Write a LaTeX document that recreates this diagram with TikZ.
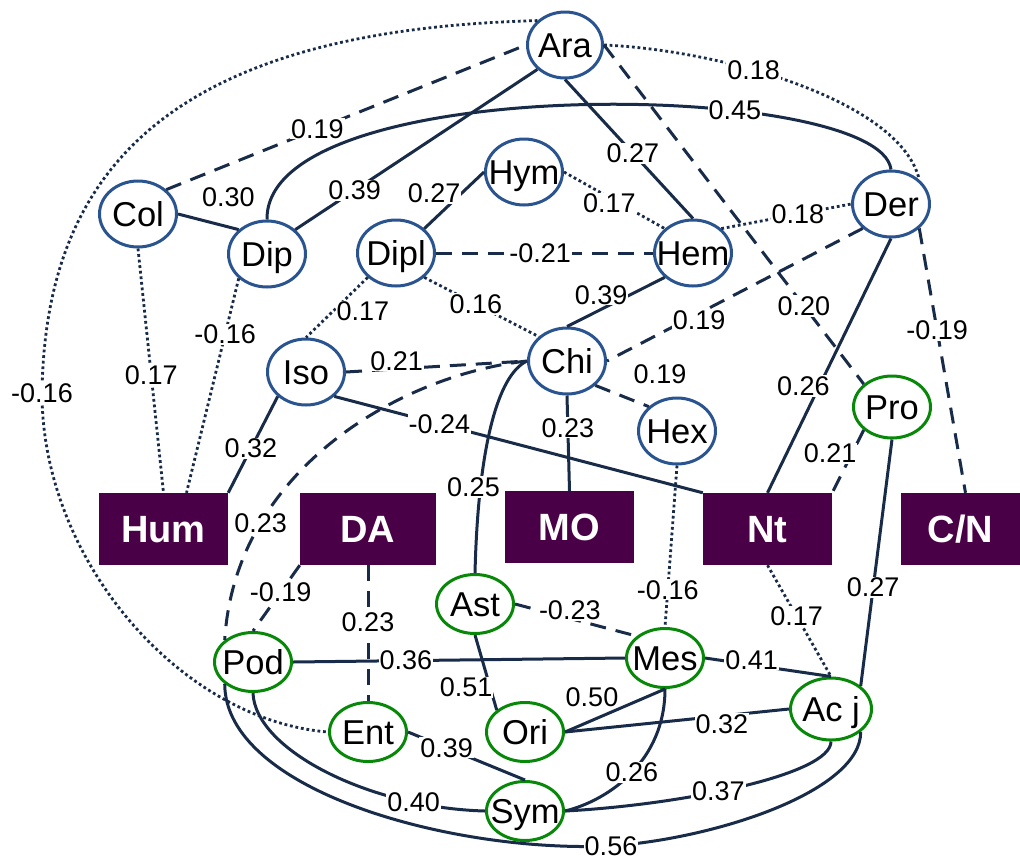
\documentclass[tikz,border=0pt]{standalone}
\usepackage{fontspec}
\setmainfont{Liberation Sans}
\usetikzlibrary{shapes.geometric}
\definecolor{bluec}{RGB}{42,84,144}
\definecolor{greenc}{RGB}{8,136,8}
\definecolor{boxc}{RGB}{74,0,70}
\definecolor{edgec}{RGB}{24,43,72}
\tikzset{
  bnode/.style={ellipse, draw=bluec, line width=3pt, fill=white,
    minimum width=77pt, minimum height=66pt, inner xsep=-40pt, inner ysep=-20pt,
    font=\fontsize{34.5}{34.5}\selectfont, text height=24.7pt, text depth=0pt},
  gnode/.style={bnode, draw=greenc, minimum height=59pt},
  boxS/.style={rectangle, fill=boxc, text=white, inner sep=0pt,
    minimum width=129pt, minimum height=72pt,
    font=\fontsize{38}{38}\selectfont\bfseries, text height=27.2pt, text depth=0pt},
  labS/.style={fill=white, inner sep=1pt, text=black,
    font=\fontsize{27}{27}\selectfont},
  solE/.style={draw=edgec, line width=3pt},
  dashE/.style={draw=edgec, line width=3pt, dash pattern=on 16pt off 10pt},
  dotE/.style={draw=edgec, line width=2.8pt, dash pattern=on 2.8pt off 2.8pt}
}
\begin{document}
\begin{tikzpicture}[x=1pt,y=-1pt]
\useasboundingbox (0,0) rectangle (1020,860);
% nodes
\node[bnode,minimum width=75pt] (Ara) at (565,45) {Ara};
\node[bnode] (Col) at (138,214) {Col};
\node[bnode] (Dip) at (267,254) {Dip};
\node[bnode] (Dipl) at (396,253) {Dipl};
\node[bnode] (Hym) at (524,172) {Hym};
\node[bnode] (Hem) at (693,253) {Hem};
\node[bnode] (Der) at (891,204) {Der};
\node[bnode] (Iso) at (306,372) {Iso};
\node[bnode] (Chi) at (567,361) {Chi};
\node[bnode] (Hex) at (677,431) {Hex};
\node[gnode,minimum height=62pt] (Pro) at (892,407) {Pro};
\node[gnode] (Ast) at (475,604) {Ast};
\node[gnode] (Mes) at (665,658) {Mes};
\node[gnode] (Ori) at (525,732) {Ori};
\node[gnode] (Sym) at (525,811) {Sym};
\node[gnode] (Pod) at (253,662) {Pod};
\node[gnode] (Ent) at (368,732) {Ent};
\node[gnode,minimum width=81pt,minimum height=62pt] (Acj) at (831,709) {Ac j};
\node[boxS] (Hum) at (163.5,529) {Hum};
\node[boxS,minimum width=136pt] (DA) at (368,529) {DA};
\node[boxS] (MO) at (569.5,527) {MO};
\node[boxS] (Nt) at (767.5,529) {Nt};
\node[boxS,minimum width=119pt] (CN) at (960.5,529) {C/N};
\coordinate (w1) at (42,393);
\coordinate (w2) at (611,846);
% edges
\draw[dashE] (Col.north east) -- node[labS,pos=0.42]{0.19} (Ara.west);
\draw[solE] (Dip.north east) -- node[labS,pos=0.245]{0.39} (Ara.south west);
\draw[solE] (Ara.south) -- node[labS,pos=0.53]{0.27} (Hem.north);
\draw[dashE] (Ara.east) -- node[labS,pos=0.77]{0.20} (Pro.north west);
\draw[dotE] (Ara.east) .. controls (720,50) and (900,100) .. node[labS,pos=0.385]{0.18} (Der.north east);
\draw[dotE] (Ara.north west) .. controls (170,30) and (45,170) .. (w1) node[labS]{-0.16} .. controls (42,560) and (180,720) .. (Ent.west);
\draw[solE] (Dip.north) .. controls (265,70) and (880,80) .. node[labS,pos=0.68]{0.45} (Der.north);
\draw[solE] (Col.east) -- node[labS,pos=0.5,xshift=20pt,yshift=25pt]{0.30} (Dip.north west);
\draw[dotE] (Col.south) -- node[labS,pos=0.52]{0.17} (Hum.north);
\draw[dotE] (Dip.south west) -- node[labS,pos=0.26]{-0.16} ([xshift=23pt]Hum.north);
\draw[solE] (Dipl.north east) -- node[labS,pos=0.5,xshift=-20pt,yshift=7pt]{0.27} (Hym.west);
\draw[dotE] (Hym.east) -- node[labS,pos=0.45,yshift=-6pt]{0.17} (Hem.north west);
\draw[dashE] (Dipl.east) -- node[labS,pos=0.48]{-0.21} (Hem.west);
\draw[dotE] (Dipl.south west) -- node[labS,pos=0.5,xshift=26pt,yshift=-4pt]{0.17} (Iso.north);
\draw[dotE] (Dipl.south east) -- node[labS,pos=0.45]{0.16} (Chi.north west);
\draw[solE] (Hem.south west) -- node[labS,pos=0.6,xshift=-5pt,yshift=12pt]{0.39} (Chi.north);
\draw[dotE] (Hem.north east) -- node[labS,pos=0.59]{0.18} (Der.west);
\draw[dashE] (Der.south west) -- node[labS,pos=0.64,yshift=-7pt]{0.19} (Chi.east);
\draw[solE] (Der.south) -- node[labS,pos=0.58,xshift=-16pt]{0.26} (Nt.north);
\draw[dashE] (Der.south east) -- node[labS,pos=0.385]{-0.19} ([xshift=5pt]CN.north);
\draw[dashE] (Chi.south east) -- node[labS,pos=0.5,xshift=38pt,yshift=22pt]{0.19} (Hex.north west);
\draw[solE] (Chi.south) -- node[labS,pos=0.34]{0.23} (MO.north);
\draw[dashE] (Iso.east) -- node[labS,pos=0.28,yshift=8pt]{0.21} (Chi.west);
\draw[solE] (Iso.south west) -- node[labS,pos=0.54]{0.32} (Hum.north east);
\draw[solE] (Iso.south east) -- node[labS,pos=0.285]{-0.24} (Nt.north west);
\draw[dashE] (Chi.west) .. controls (400,375) and (235,470) .. node[labS,pos=0.74]{0.23} (Pod.north west);
\draw[dotE] (Hex.south) -- node[labS,pos=0.77]{-0.16} (Mes.north);
\draw[dotE] (Nt.south) -- node[labS,pos=0.46]{0.17} (Acj.north);
\draw[dashE] (Pro.south west) -- node[labS,pos=0.37,xshift=-22pt]{0.21} (Nt.north east);
\draw[solE] (Pro.south) -- node[labS,pos=0.6]{0.27} (Acj.north east);
\draw[solE] (Chi.west) .. controls (497,375) and (478,450) .. node[labS,pos=0.74,xshift=-7pt]{0.25} (Ast.north);
\draw[dashE] (DA.south west) -- node[labS,pos=0.41]{-0.19} (Pod.north);
\draw[dashE] (DA.south) -- node[labS,pos=0.42]{0.23} (Ent.north);
\draw[dashE] (Ast.east) -- node[labS,pos=0.45,yshift=8pt]{-0.23} (Mes.north west);
\draw[solE] (Ast.south) -- node[labS,pos=0.7,xshift=-24pt]{0.51} (Ori.north west);
\draw[solE] (Pod.east) -- node[labS,pos=0.34]{0.36} (Mes.west);
\draw[solE] (Mes.east) -- node[labS,pos=0.37,yshift=5pt]{0.41} (Acj.north);
\draw[solE] (Mes.south) -- node[labS,pos=0.6,xshift=-13pt,yshift=18pt]{0.50} (Ori.east);
\draw[solE] (Ori.east) -- node[labS,pos=0.7,yshift=-8pt]{0.32} (Acj.west);
\draw[solE] (Mes.south) .. controls (665,760) and (610,800) .. node[labS,pos=0.5]{0.26} (Sym.east);
\draw[solE] (Sym.east) .. controls (680,805) and (831,775) .. node[labS,pos=0.43]{0.37} (Acj.south);
\draw[solE] (Ent.east) -- node[labS,pos=0.33]{0.39} (Sym.north);
\draw[solE] (Pod.south) .. controls (255,750) and (370,808) .. node[labS,pos=0.79]{0.40} (Sym.west);
\draw[solE] (Pod.south west) .. controls (225,790) and (450,853) .. (w2) node[labS]{0.56} .. controls (720,838) and (861,790) .. (Acj.south east);
\end{tikzpicture}
\end{document}
